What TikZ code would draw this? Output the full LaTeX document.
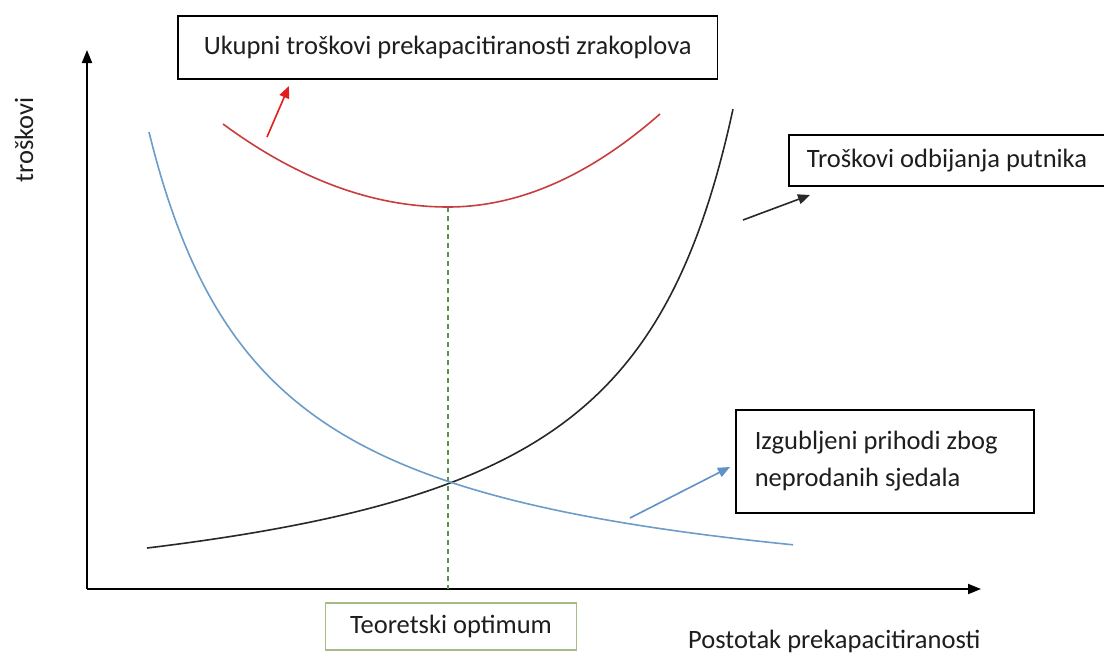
\documentclass[tikz,border=0pt]{standalone}
\usepackage{fontspec}
\setmainfont{Carlito}
\usetikzlibrary{arrows.meta}
\definecolor{redcurve}{RGB}{200,62,62}
\definecolor{redarrow}{RGB}{228,28,28}
\definecolor{bluecurve}{RGB}{108,156,200}
\definecolor{bluearrow}{RGB}{96,146,200}
\definecolor{blackcurve}{RGB}{40,40,40}
\definecolor{optgreen}{RGB}{90,150,70}
\definecolor{boxgreen}{RGB}{165,188,135}
\definecolor{txt}{RGB}{30,30,30}
\tikzset{
  lbl/.style={font=\fontsize{26.5}{37}\selectfont, text=txt},
  boxed/.style={lbl, draw=black, line width=1.6pt, inner sep=0pt},
  axisline/.style={line width=2pt, draw=black, -{Triangle[length=13pt,width=10pt]}},
  curveline/.style={line width=1.6pt},
  pointer/.style={line width=1.6pt, -{Triangle[length=12pt,width=10pt]}},
}
\begin{document}
\begin{tikzpicture}[x=1pt,y=-1pt]
\useasboundingbox (0,0) rectangle (1104,659);
\clip (0,0) rectangle (1104,659);
\fill[white] (0,0) rectangle (1104,659);

% axes
\coordinate (O) at (87,589);
\coordinate (ytip) at (87,50);
\coordinate (xtip) at (981,589);
\draw[axisline] (O) -- (ytip);
\draw[axisline] (O) -- (xtip);

% axis labels
\node[lbl, rotate=90] (ylab) at (24,140) {troškovi};
\node[lbl, anchor=base west, inner sep=0pt] (xlab) at (688,648) {Postotak prekapacitiranosti};

% optimum dashed line
\coordinate (optT) at (448,207);
\coordinate (optB) at (448,589);
\draw[optgreen, line width=1.2pt, dash pattern=on 5pt off 4pt] (optT) -- (optB);

% red total cost curve
\draw[redcurve, curveline] plot[domain=223:448, samples=60] (\x, {207-16.4*((\x-448)/100)^2})
  -- plot[domain=448:660, samples=60] (\x, {207-20.7*((\x-448)/100)^2});

% black rejection cost curve
\draw[blackcurve, curveline] plot[domain=147:733, samples=150, smooth] (\x, {589-(595.22/((846.6-\x)/100)-44.1)});

% blue lost revenue curve
\draw[bluecurve, curveline] plot[domain=149:793, samples=150, smooth] (\x, {589-(589.33/((\x-149+120.3)/100)-32.9)});

% boxes
\node[boxed, minimum width=539.5pt, minimum height=63pt] (total) at (447.75,47.5) {Ukupni troškovi prekapacitiranosti zrakoplova};
\node[boxed, anchor=west, minimum height=51pt, inner xsep=18pt] (reject) at (788,160.5) {Troškovi odbijanja putnika};
\node[boxed, anchor=north west, minimum height=103pt, text width=260pt, inner xsep=19pt, align=flush left] (lost) at (735,409) {Izgubljeni prihodi zbog\\neprodanih sjedala\vphantom{g}};
\node[lbl, draw=boxgreen, line width=1.4pt, inner sep=0pt, minimum width=251pt, minimum height=47pt] (optbox) at (451,626.3) {Teoretski optimum};

% pointer arrows
\coordinate (ra) at (267,137);
\coordinate (rb) at (289,86);
\draw[pointer, redarrow] (ra) -- (rb);
\coordinate (ka) at (743,220);
\coordinate (kb) at (810,195);
\draw[pointer, blackcurve] (ka) -- (kb);
\coordinate (ba) at (630,518);
\coordinate (bb) at (730,467);
\draw[pointer, bluearrow] (ba) -- (bb);
\end{tikzpicture}
\end{document}
